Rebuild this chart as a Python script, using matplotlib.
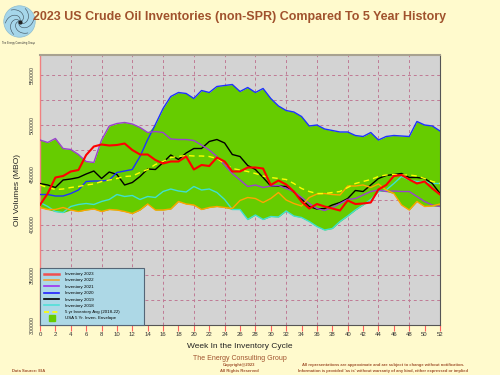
import numpy as np
import matplotlib
matplotlib.use("Agg")
import matplotlib.pyplot as plt
from matplotlib.lines import Line2D
from matplotlib.patches import Circle

plt.rcParams['font.family'] = ['Liberation Sans', 'DejaVu Sans']

weeks = list(range(53))

inv_2023 = [419.5, 431, 447, 448.5, 453, 454.5, 469.5, 478, 480, 479, 479.5, 481, 474.5, 470, 470,
            464.5, 461, 463, 463, 468, 455, 459.5, 458.5, 467, 463, 453, 453, 457, 457, 456, 439.5,
            444, 440, 433, 423, 416, 420.5, 418, 416, 414, 424, 420.5, 421, 422, 435, 439.5, 448.5,
            449.5, 445, 441, 443, 436, 430]
inv_2022 = [417, 415, 415, 417, 414.5, 413, 414.5, 415.5, 413, 415, 414.5, 413, 411, 414.5, 420.5,
            414.5, 414.5, 415.5, 423, 420.5, 419.5, 415, 417, 418, 417, 416, 424, 427, 426, 422, 426,
            432, 424.5, 421, 418.5, 427, 430.5, 431, 430, 429.5, 438.5, 438.5, 439.5, 437, 440.5,
            434.5, 431, 419.5, 414.5, 423, 418, 418.5, 420.5]
inv_2021 = [484.5, 482, 486, 476, 475, 470, 463, 462, 484.5, 498.5, 501, 502, 500.5, 497, 492, 493,
            492, 485.5, 485, 485, 484, 479.5, 474.5, 468, 459.5, 451, 444.5, 438, 439.5, 437, 438.5,
            439, 436, 433, 427, 421, 416, 414, 417, 421, 425, 426, 429.5, 433, 434.5, 433, 433.5,
            433, 433, 428, 423, 419.5, 418]
inv_2020 = [430, 430, 428.5, 428.5, 431, 434.5, 443, 443.5, 443.5, 444.5, 452, 453.5, 455, 468, 485,
            500, 516, 528, 532, 531, 526, 534, 532, 538, 539, 540, 533, 537, 532, 536, 526, 518.5,
            514, 512.5, 508, 498.5, 499.5, 495.5, 494, 492.5, 492.5, 489, 488, 492, 484.5, 488, 489,
            488.5, 488, 503, 499.5, 498.5, 493.5]
inv_2019 = [441, 439.5, 437, 444.5, 445.5, 447, 450.5, 453.5, 446, 452.5, 450, 439.5, 442, 448, 455.5,
            455, 462, 469.5, 465, 471.5, 476, 476, 483, 485, 481.5, 470, 468, 459, 455, 447, 438.5,
            438.5, 438, 432.5, 425.5, 418, 415.5, 416, 419.5, 422, 426, 434, 433, 439.5, 446, 449,
            450, 451, 447, 447, 446, 441, 431]
inv_2018 = [422, 418, 413, 412, 418, 420, 421, 420, 423, 425, 430, 428, 429, 425, 428, 427, 433,
            435.5, 433.5, 432.5, 438, 434.5, 435.5, 432, 425, 415, 415, 405, 409.5, 405, 408, 407.5,
            413.5, 408.5, 407, 403, 398, 394.5, 396, 403, 408.5, 414.5, 419.5, 425, 433, 434.5, 441,
            448, 444.5, 443, 443, 441, 441]
avg_5yr = [439.5, 437, 435, 435.5, 437, 438, 439.5, 440.5, 443, 444.5, 446, 448, 448.5, 452, 455,
           460, 463, 467, 468, 469, 468.5, 468.5, 468, 466, 461, 456, 454.5, 453, 451, 448.5, 447,
           446, 445, 441, 436, 433, 431, 431, 432, 433, 437, 441, 443, 445, 448, 449.5, 450, 449.5,
           449.5, 448.5, 446, 443, 441]

x_ticks = list(range(0, 53, 2))
y_ticks = [300000, 350000, 400000, 450000, 500000, 550000]

def k(v):
    return np.array(v) * 1000.0

hist = np.vstack([k(inv_2018), k(inv_2019), k(inv_2020), k(inv_2021), k(inv_2022)])
env_lo = hist.min(axis=0)
env_hi = hist.max(axis=0)

BG = '#FFFACD'
BROWN = '#A0522D'
GREEN = '#66CC00'

fig = plt.figure(figsize=(5, 3.75), dpi=100, facecolor=BG)
ax = fig.add_axes([40/500, 1 - 324.5/375, 400/500, (324.5 - 55)/375])
ax.set_facecolor('#D3D3D3')
ax.set_xlim(0, 52)
ax.set_ylim(300000, 569500)

# grid
for yv in range(325000, 569500, 25000):
    ax.axhline(yv, color='#C07A95', lw=0.7, ls=(0, (3, 3)), zorder=1)
for xv in range(4, 52, 4):
    ax.axvline(xv, color='#C07A95', lw=0.7, ls=(0, (3, 3)), zorder=1)

ax.fill_between(weeks, env_lo, env_hi, color=GREEN, lw=0, zorder=2)

ax.plot(weeks, k(inv_2018), color='#40E0D0', lw=1.0, zorder=3)
ax.plot(weeks, k(inv_2019), color='black', lw=1.0, zorder=3)
ax.plot(weeks, k(inv_2020), color='#1E32FF', lw=1.0, zorder=3)
ax.plot(weeks, k(inv_2021), color='#9B40D0', lw=1.0, zorder=3)
ax.plot(weeks, k(inv_2022), color='#FFA500', lw=1.0, zorder=3)
ax.plot(weeks, k(avg_5yr), color='#FFFF00', lw=1.0, ls=(0, (4, 3)), zorder=4)
ax.plot(weeks, k(inv_2023), color='#FF0000', lw=1.5, zorder=5)

ax.set_xticks(x_ticks)
ax.set_xticklabels([str(t) for t in x_ticks], fontsize=4.3, color='#333333')
ax.set_yticks(y_ticks)
ax.set_yticklabels([str(t) for t in y_ticks], fontsize=3.8, color='#333333',
                   rotation=90, va='center')
ax.tick_params(axis='x', length=4, width=0.8, color='#FF6060', pad=1.5)
ax.tick_params(axis='y', length=0, pad=4)

for s in ['left']:
    ax.spines[s].set_color('#F08080')
    ax.spines[s].set_linewidth(1.0)
ax.spines['bottom'].set_color('#555555')
ax.spines['bottom'].set_linewidth(0.8)
ax.spines['top'].set_color('#A8A290')
ax.spines['top'].set_linewidth(1.5)
ax.spines['right'].set_color('#555555')
ax.spines['right'].set_linewidth(0.8)

ax.set_xlabel('Week In the Inventory Cycle', fontsize=6, color='#222222', labelpad=4)
ax.set_ylabel('Oil Volumes (MBO)', fontsize=6, color='#222222', labelpad=6)

handles = [
    Line2D([], [], color='#F05050', lw=1.8),
    Line2D([], [], color='#F0A030', lw=1.2),
    Line2D([], [], color='#A030F0', lw=1.2),
    Line2D([], [], color='#2020FF', lw=1.2),
    Line2D([], [], color='black', lw=1.2),
    Line2D([], [], color='#50E0D8', lw=1.2),
    Line2D([], [], color='#FFFF00', lw=1.2, ls=(0, (3, 2))),
    Line2D([], [], color=GREEN, marker='s', markersize=4.5, ls='none'),
]
labels = ['Inventory 2023', 'Inventory 2022', 'Inventory 2021', 'Inventory 2020',
          'Inventory 2019', 'Inventory 2018', '5 yr Inventory Avg (2018-22)',
          'USA 5 Yr. Inven. Envelope']
leg = ax.legend(handles, labels, loc='lower left', bbox_to_anchor=(0, 0, 0.26, 0.2),
                mode='expand', fontsize=3.2, frameon=True, fancybox=False,
                facecolor='#ADD8E6', edgecolor='#556677', framealpha=1,
                borderaxespad=0, borderpad=0.9, labelspacing=0.5, handlelength=3.4,
                handletextpad=1.4)
leg.get_frame().set_linewidth(0.8)
leg.set_zorder(10)

fig.text(240/500, 1 - 17/375, '2023 US Crude Oil Inventories (non-SPR) Compared To 5 Year History',
         fontsize=9, fontweight='bold', color=BROWN, ha='center', va='center')

# footer
fig.text(240/500, 1 - 359/375, 'The Energy Consulting Group', fontsize=5, color=BROWN,
         ha='center', va='center')
fig.text(239/500, 1 - 365.3/375, 'Copyright@2023', fontsize=3, color=BROWN, fontweight='bold',
         ha='center', va='center')
fig.text(239/500, 1 - 370.7/375, 'All Rights Reserved', fontsize=3, color=BROWN, fontweight='bold',
         ha='center', va='center')
fig.text(383/500, 1 - 365.3/375,
         'All representations are approximate and are subject to change without notification.',
         fontsize=3, color=BROWN, fontweight='bold', ha='center', va='center')
fig.text(383/500, 1 - 370.7/375,
         "Information is provided 'as is' without warranty of any kind, either expressed or implied",
         fontsize=3, color=BROWN, fontweight='bold', ha='center', va='center')
fig.text(12/500, 1 - 370.5/375, 'Data Source: EIA', fontsize=3, color=BROWN, fontweight='bold',
         ha='left', va='center')

# logo
lax = fig.add_axes([3/500, 1 - 38/375, 33/500, 33/375])
lax.set_xlim(-1.05, 1.05)
lax.set_ylim(-1.05, 1.05)
lax.set_aspect('equal')
lax.axis('off')
lax.add_patch(Circle((0, 0), 1.0, facecolor='#A6D6EA', edgecolor='#8CBCD0', lw=0.5))
t = np.linspace(0, 1, 60)
for a0 in np.linspace(0, 2*np.pi, 7)[:-1]:
    r = 0.05 + 0.85 * t
    ang = a0 + 2.2 * t
    lax.plot(r*np.cos(ang), r*np.sin(ang), color='#3A4A55', lw=0.4)
lax.plot([0], [0], marker='o', color='#222222', markersize=2)
fig.text(19/500, 1 - 43/375, 'The Energy Consulting Group', fontsize=1.8, color='#333333',
         ha='center', va='center')

fig.savefig('out.png', dpi=100, facecolor=BG)
